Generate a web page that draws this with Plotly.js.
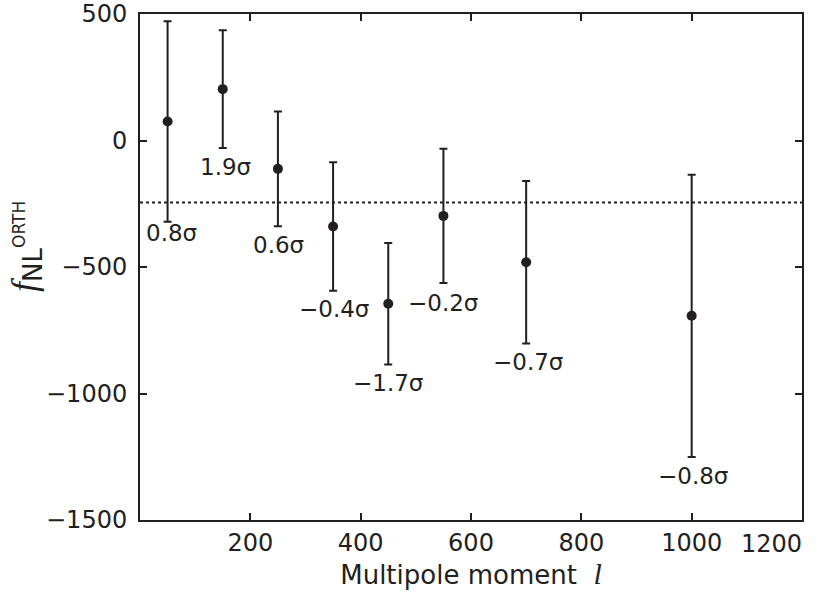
<!DOCTYPE html>
<html>
<head>
<meta charset="utf-8">
<script src="https://cdn.plot.ly/plotly-3.0.1.min.js"></script>
<style>html,body{margin:0;padding:0;background:#fff;}#chart{width:831px;height:600px;}</style>
</head>
<body>
<div id="chart"></div>
<script>
// ---- data ----
const multipole = [50, 150, 250, 350, 450, 550, 700, 1000];
const fnlOrth = [75, 203, -112, -340, -645, -298, -481, -693];
const fnlError = [396, 233, 227, 254, 240, 265, 321, 558];
const sigmaLabels = ["0.8σ", "1.9σ", "0.6σ", "−0.4σ", "−1.7σ", "−0.2σ", "−0.7σ", "−0.8σ"];
const fullRangeValue = -245;
const xTickVals = [200, 400, 600, 800, 1000, 1200];
const xTickText = ["200", "400", "600", "800", "1000", "1200"];
const yTickVals = [500, 0, -500, -1000, -1500];
const yTickText = ["500", "0", "−500", "−1000", "−1500"];

// ---- styling ----
const ink = '#231f20';
const font = 'DejaVu Sans, Liberation Sans, Arial, sans-serif';
const serif = 'Liberation Serif';
const labelShift = [-11, -19, -19, -18, -19, -20, -19, -19];
const labelXShift = [4, 3, 1, 1, 0, 0, 2, 1];

const trace = {
  type: 'scatter',
  mode: 'markers',
  x: multipole,
  y: fnlOrth,
  marker: {color: ink, size: 10},
  error_y: {type: 'data', array: fnlError, visible: true, color: ink, thickness: 2, width: 4},
  hoverinfo: 'none',
  showlegend: false
};

const annotations = multipole.map((x, i) => ({
  x: x,
  y: fnlOrth[i] - fnlError[i],
  xref: 'x', yref: 'y',
  text: sigmaLabels[i],
  showarrow: false,
  xanchor: 'center', yanchor: 'middle',
  yshift: labelShift[i],
  xshift: labelXShift[i],
  font: {family: font, size: 23, color: ink}
}));

// last x tick label is right-aligned to the frame corner, as in the original
const lastX = xTickVals[xTickVals.length - 1];
annotations.push({
  x: lastX, y: 0, xref: 'x', yref: 'paper',
  text: xTickText[xTickText.length - 1],
  showarrow: false, xanchor: 'right', yanchor: 'top',
  yshift: -8, xshift: 2,
  font: {family: font, size: 24, color: ink}
});

// y-axis title
annotations.push({
  x: -0.172, y: 0.54, xref: 'paper', yref: 'paper',
  text: '<span style="font-family:' + serif + ';font-style:italic;font-size:36px">f</span>' +
        '<sub><span style="font-size:26px">NL</span></sub>' +
        '<sup><span style="font-size:17px">ORTH</span></sup>',
  textangle: -90,
  showarrow: false, xanchor: 'center', yanchor: 'middle',
  font: {family: font, size: 26, color: ink}
});

const layout = {
  width: 831, height: 600,
  margin: {l: 140, r: 29, t: 14, b: 80},
  paper_bgcolor: '#fff', plot_bgcolor: '#fff',
  font: {family: font, color: ink},
  xaxis: {
    range: [0, 1200],
    tickvals: xTickVals,
    ticktext: xTickText.map((t, i) => i === xTickText.length - 1 ? '' : t),
    ticks: 'inside', ticklen: 7, tickwidth: 2, tickcolor: ink,
    showline: true, linewidth: 2, linecolor: ink, mirror: 'ticks',
    showgrid: false, zeroline: false,
    tickfont: {family: font, size: 24, color: ink},
    ticklabeloverflow: 'allow',
    title: {text: 'Multipole moment  <span style="font-family:' + serif + ';font-style:italic;font-size:30px">l</span>',
            font: {family: font, size: 26, color: ink}, standoff: 4}
  },
  yaxis: {
    range: [-1500, 500],
    tickvals: yTickVals,
    ticktext: yTickText,
    ticks: 'inside', ticklen: 7, tickwidth: 2, tickcolor: ink,
    showline: true, linewidth: 2, linecolor: ink, mirror: 'ticks',
    showgrid: false, zeroline: false,
    tickfont: {family: font, size: 24, color: ink},
    ticklabeloverflow: 'allow',
    ticklabelstandoff: 6
  },
  shapes: [{
    type: 'line', xref: 'paper', yref: 'y',
    x0: 0, x1: 1, y0: fullRangeValue, y1: fullRangeValue,
    line: {color: ink, width: 2, dash: 'dot'}
  }],
  annotations: annotations
};

Plotly.newPlot('chart', [trace], layout, {displayModeBar: false, staticPlot: true});
</script>
</body>
</html>
